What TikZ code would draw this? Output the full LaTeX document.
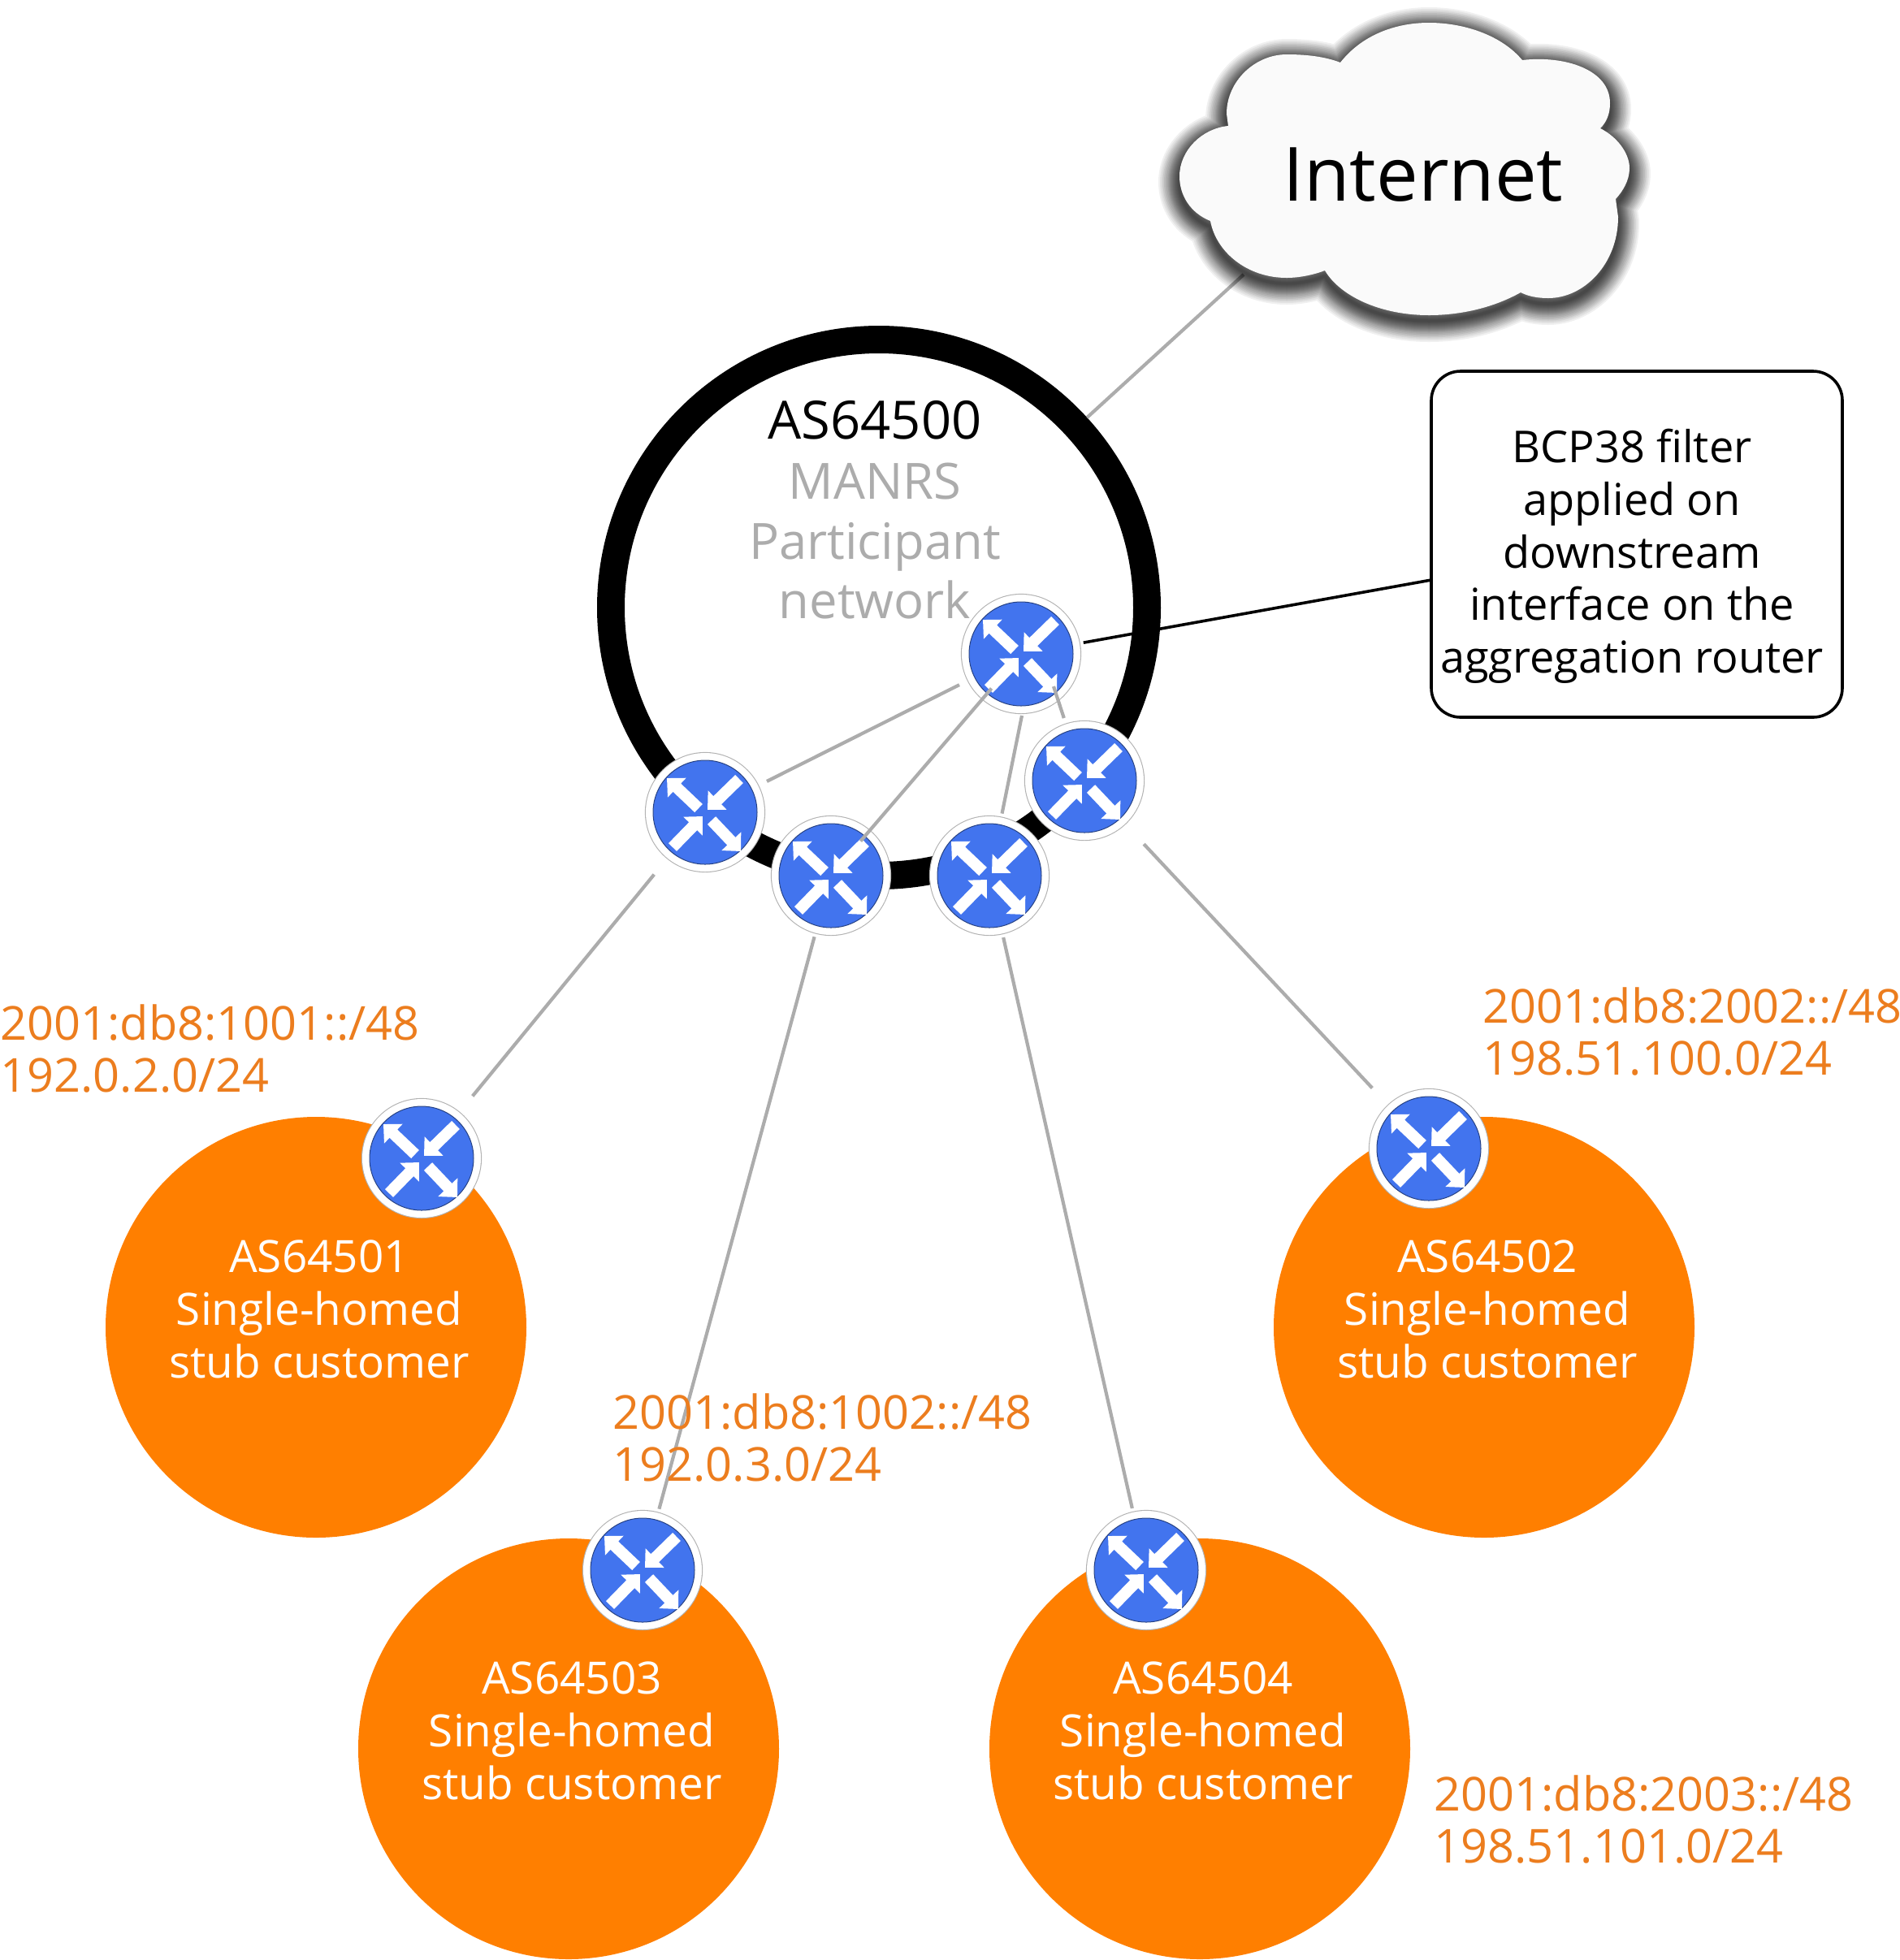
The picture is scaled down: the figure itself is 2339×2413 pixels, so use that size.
\documentclass[tikz,border=0pt]{standalone}
\usepackage{fontspec}
\setmainfont{Open Sans}
\usepackage{tikz}
\usetikzlibrary{arrows.meta}
\usetikzlibrary{positioning}
\usetikzlibrary{calc}
\definecolor{routerblue}{RGB}{66,116,238}
\definecolor{custorange}{RGB}{255,127,0}
\definecolor{prefixorange}{RGB}{236,125,30}
\definecolor{linkgray}{RGB}{172,172,172}
\newcommand{\rnode}[2]{
  \node(#1)[router] at (#2) {};
  \begin{scope}[shift={(#2)}]
    \draw[routerrim] (0,0) circle (6.4mm);
    \draw[routerarrow] (-8,-5) -- (-47,-42);
    \draw[routerarrow] (42,-41) -- (3,-3);
    \draw[routerarrow] (-40,43) -- (-3,5);
    \draw[routerarrow] (8,10) -- (44,48);
  \end{scope}
}
\newcommand{\cnode}[3]{
  \node(#1)[customer] at (#2) {};
  \node(#1label)[custlabel] at ($(#1)+(4,-22)$) {#3\\Single-homed\\stub customer};
}
\newcommand{\grayword}[1]{\textcolor{linkgray}{\fontsize{17.5}{21}\selectfont #1}}
\newcommand{\cloudpath}{
  (1650,77) .. controls (1675,45) and (1715,28) .. (1759,28)
  .. controls (1805,28) and (1850,45) .. (1874,74)
  .. controls (1925,68) and (1982,85) .. (1982,127)
  .. controls (1982,140) and (1978,150) .. (1970,158)
  .. controls (1990,168) and (2006,188) .. (2006,207)
  .. controls (2006,222) and (1998,235) .. (1989,245)
  -- (1992,267)
  .. controls (1992,325) and (1950,367) .. (1906,367)
  .. controls (1893,367) and (1882,365) .. (1872,360)
  .. controls (1840,378) and (1800,388) .. (1759,388)
  .. controls (1700,388) and (1650,365) .. (1631,333)
  .. controls (1618,338) and (1600,342) .. (1584,342)
  .. controls (1535,342) and (1497,310) .. (1490,272)
  .. controls (1465,262) and (1452,240) .. (1452,217)
  .. controls (1452,185) and (1480,158) .. (1512,155)
  -- (1510,140)
  .. controls (1510,100) and (1545,67) .. (1584,67)
  .. controls (1610,67) and (1632,70) .. (1650,77) -- cycle
}

\begin{document}
\begin{tikzpicture}[
        x=0.1mm,y=-0.1mm,
        every node/.style={inner sep=0pt},
        netring/.style={circle,minimum size=66mm,line width=3.4mm,draw=black,outer sep=1.7mm},
        router/.style={circle,minimum size=13.7mm,line width=0.9mm,fill=routerblue,draw=white,
                     outer sep=0.95mm,preaction={draw=black!30,line width=1.12mm}},
        routerrim/.style={draw=routerblue!55!black,line width=0.1mm},
        routerarrow/.style={draw=white,line width=1.4mm,-{Triangle[length=1.7mm,width=3.2mm]}},
        customer/.style={circle,minimum size=51.8mm,fill=custorange},
        custlabel/.style={align=center,text=white,font=\fontsize{15.6}{18.4}\selectfont},
        prefixtext/.style={anchor=west,align=left,text=prefixorange,font=\fontsize{16.4}{18.4}\selectfont},
        link/.style={draw=linkgray,line width=0.42mm},
        filterlink/.style={draw=black,line width=0.36mm},
        callout/.style={rectangle,rounded corners=3.6mm,draw=black,line width=0.36mm,fill=white,
                     minimum width=50.6mm,minimum height=42.6mm},
        callouttext/.style={align=center,font=\fontsize{15.4}{18.4}\selectfont}
      ]
      \useasboundingbox (0,0) rectangle (2339,2413);

      \node(ring)[netring] at (1082,748) {};
      \coordinate (cloudfoot) at (1531,338);
      \coordinate (boxfoot) at (1762,714);
      \coordinate (mainfoot) at (1258,881);
      \coordinate (mainout) at (1297,845);
      \draw[link] (ring) -- (cloudfoot);

      \foreach \w in {5.2,4.8,4.4,4.1,3.8,3.5,3.2,2.9,2.7,2.5,2.3,2.1,1.9,1.7,1.5,1.3,1.1,0.9,0.7,0.5,0.3}
        \draw[line width=\w mm,draw=black,opacity=0.06,line join=round,yshift=-0.7mm] \cloudpath;
      \draw[fill=black!2,draw=none] \cloudpath;
      \node(internet)[font=\fontsize{26.2}{30}\selectfont] at (1752,215) {Internet};

      \node(ringlabel)[align=center,font=\fontsize{18.5}{21}\selectfont] at (1077,628)
        {AS64500\\\grayword{MANRS}\\\grayword{Participant}\\\grayword{network}};

      \cnode{c1}{389,1634}{AS64501};
      \cnode{c2}{1827,1634}{AS64502};
      \cnode{c3}{700,2153}{AS64503};
      \cnode{c4}{1477,2153}{AS64504};

      \node(bcpbox)[callout] at (2015,670) {};
      \node(bcptext)[callouttext] at (2009,685) {BCP38 filter\\applied on\\downstream\\interface on the\\aggregation router};

      \rnode{rmain}{1257,805};
      \rnode{rleft}{868,1000};
      \rnode{rmidl}{1023,1078};
      \rnode{rmidr}{1218,1078};
      \rnode{rright}{1335,961};
      \rnode{rc1}{519,1426};
      \rnode{rc2}{1759,1414};
      \rnode{rc3}{791,1933};
      \rnode{rc4}{1411,1933};

      \draw[filterlink] (rmain) -- (boxfoot);
      \draw[link,shorten <=0.7mm,shorten >=0.7mm] (rmain) -- (rleft);
      \draw[link,shorten <=-2.2mm,shorten >=-2.2mm] (rmain) -- (rmidl);
      \draw[link,shorten >=0.3mm] (mainout) -- (rright);
      \draw[link] (mainfoot) -- (rmidr);
      \draw[link,shorten <=2.1mm,shorten >=2.1mm] (rleft) -- (rc1);
      \draw[link] (rmidl) -- (rc3);
      \draw[link] (rmidr) -- (rc4);
      \draw[link,shorten <=2.9mm,shorten >=2.4mm] (rright) -- (rc2);

      \node(p1)[prefixtext] at (0,1291) {2001:db8:1001::/48\\192.0.2.0/24};
      \node(p2)[prefixtext] at (1825,1270) {2001:db8:2002::/48\\198.51.100.0/24};
      \node(p3)[prefixtext] at (754,1770) {2001:db8:1002::/48\\192.0.3.0/24};
      \node(p4)[prefixtext] at (1765,2240) {2001:db8:2003::/48\\198.51.101.0/24};
    \end{tikzpicture}
\end{document}
